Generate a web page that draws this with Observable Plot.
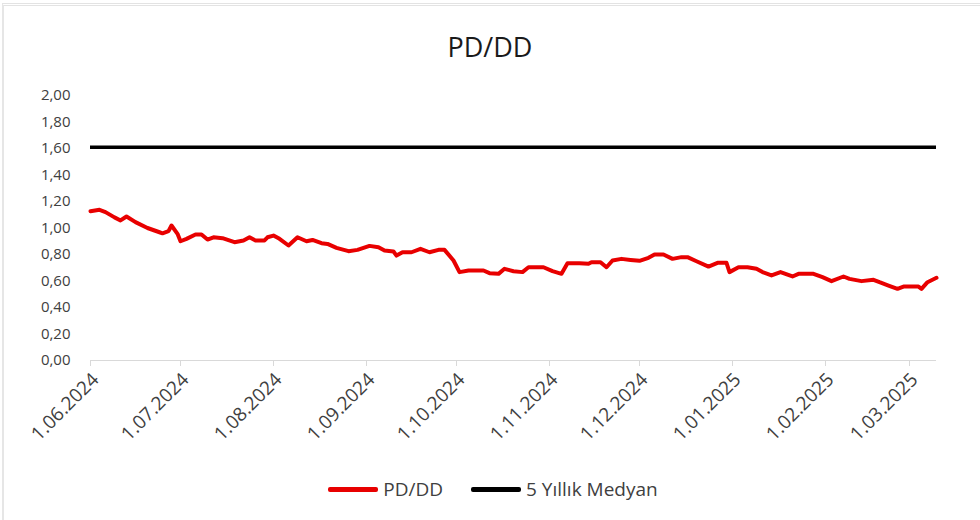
<!DOCTYPE html>
<html>
<head>
<meta charset="utf-8">
<script src="https://cdn.jsdelivr.net/npm/d3@7"></script>
<script src="https://cdn.jsdelivr.net/npm/@observablehq/plot@0.6"></script>
<style>
  html, body { margin: 0; padding: 0; background: #fff; }
  #wrap { position: relative; width: 980px; height: 520px; background: #fff; overflow: hidden; font-family: "Open Sans", "Liberation Sans", sans-serif; }
  #frame { position: absolute; left: 2px; top: 3px; width: 990px; height: 530px; border-left: 2px solid #e6e6e6; border-top: 3px double #e3e3e3; box-sizing: border-box; }
  #title { position: absolute; left: 0; width: 980px; top: 28px; text-align: center; font-size: 27px; color: #1a1a1a; }
  #chart { position: absolute; left: 0; top: 70px; }
  #legend { position: absolute; top: 476px; left: 0; width: 980px; display: flex; justify-content: center; align-items: center; font-size: 19px; color: #404040; padding-left: 6px; box-sizing: border-box; }
  .item { display: flex; align-items: center; margin: 0 14px; }
  .sw { width: 50px; height: 5px; margin-right: 5px; border-radius: 2px; }
</style>
</head>
<body>
<div id="wrap">
  <div id="frame"></div>
  <div id="title">PD/DD</div>
  <div id="chart"></div>
  <div id="legend"></div>
</div>
<script>
// Data
const dates = [
  "2024-06-01","2024-06-04","2024-06-06","2024-06-09","2024-06-11","2024-06-13","2024-06-16","2024-06-20",
  "2024-06-24","2024-06-25","2024-06-27","2024-06-28","2024-06-30","2024-07-01","2024-07-03","2024-07-06",
  "2024-07-08","2024-07-10","2024-07-12","2024-07-15","2024-07-19","2024-07-22","2024-07-24","2024-07-26",
  "2024-07-29","2024-07-30","2024-08-01","2024-08-03","2024-08-06","2024-08-09","2024-08-12","2024-08-14",
  "2024-08-17","2024-08-19","2024-08-22","2024-08-26","2024-08-29","2024-09-02","2024-09-05","2024-09-07",
  "2024-09-10","2024-09-11","2024-09-13","2024-09-16","2024-09-19","2024-09-22","2024-09-25","2024-09-27",
  "2024-09-30","2024-10-02","2024-10-05","2024-10-10","2024-10-12","2024-10-15","2024-10-17","2024-10-20",
  "2024-10-23","2024-10-25","2024-10-30","2024-11-02","2024-11-05","2024-11-07","2024-11-11","2024-11-14",
  "2024-11-15","2024-11-18","2024-11-20","2024-11-22","2024-11-25","2024-11-28","2024-12-01","2024-12-04",
  "2024-12-06","2024-12-09","2024-12-12","2024-12-15","2024-12-17","2024-12-20","2024-12-24","2024-12-27",
  "2024-12-30","2024-12-31","2025-01-03","2025-01-06","2025-01-09","2025-01-11","2025-01-14","2025-01-17",
  "2025-01-21","2025-01-23","2025-01-28","2025-01-31","2025-02-03","2025-02-07","2025-02-09","2025-02-13",
  "2025-02-17","2025-02-19","2025-02-22","2025-02-25","2025-02-27","2025-03-04","2025-03-05","2025-03-07",
  "2025-03-10"
];
const pddd = [
  1.127,1.137,1.120,1.080,1.057,1.087,1.044,1.000,
  0.968,0.960,0.976,1.019,0.956,0.900,0.918,0.951,
  0.951,0.913,0.930,0.923,0.893,0.906,0.930,0.906,
  0.906,0.930,0.943,0.918,0.868,0.930,0.900,0.910,
  0.885,0.880,0.850,0.825,0.835,0.865,0.855,0.830,
  0.823,0.792,0.817,0.817,0.843,0.817,0.835,0.835,
  0.755,0.667,0.679,0.679,0.659,0.654,0.692,0.674,
  0.667,0.704,0.704,0.674,0.654,0.734,0.734,0.730,
  0.742,0.742,0.704,0.755,0.767,0.759,0.752,0.775,
  0.800,0.800,0.767,0.780,0.780,0.749,0.709,0.737,
  0.737,0.667,0.704,0.704,0.692,0.667,0.642,0.667,
  0.634,0.654,0.654,0.629,0.599,0.634,0.616,0.599,
  0.609,0.591,0.566,0.541,0.558,0.558,0.541,0.591,
  0.624
];
const median5y = 1.61;
const yTicks = [0, 0.2, 0.4, 0.6, 0.8, 1.0, 1.2, 1.4, 1.6, 1.8, 2.0];
const xTicks = ["2024-06-01","2024-07-01","2024-08-01","2024-09-01","2024-10-01","2024-11-01","2024-12-01","2025-01-01","2025-02-01","2025-03-01"];
const seriesNames = ["PD/DD", "5 Yıllık Medyan"];
const seriesColors = ["#e80000", "#000000"];

const parse = d3.utcParse("%Y-%m-%d");
const data = dates.map((d, i) => ({date: parse(d), value: pddd[i]}));
const fmtDate = d3.utcFormat("%-d.%m.%Y");
const xTickDates = xTicks.map(parse);

const plot = Plot.plot({
  width: 980,
  height: 390,
  marginLeft: 90,
  marginRight: 44,
  marginTop: 25,
  marginBottom: 100,
  style: {fontFamily: "'Open Sans', 'Liberation Sans', sans-serif", fontSize: "15px", color: "#595959", background: "transparent"},
  x: {type: "utc", domain: [parse("2024-06-01"), parse("2025-03-10")], label: null},
  y: {domain: [0, 2], label: null},
  marks: [
    Plot.ruleY([0], {stroke: "#d9d9d9", strokeWidth: 1.2}),
    // tick marks only
    Plot.axisX({ticks: xTickDates, tickFormat: () => "", tickSize: 6, stroke: "#d9d9d9", label: null}),
    // rotated labels only, nudged like the original
    Plot.axisX({ticks: xTickDates, tickFormat: fmtDate, tickRotate: -45, tickSize: 0, tickPadding: 16, dx: 5, fill: "#404040", fontSize: 19, label: null}),
    Plot.axisY({ticks: yTicks, tickFormat: d => d.toFixed(2).replace(".", ","), tickSize: 0, tickPadding: 20, fill: "#404040", fontSize: 15, label: null}),
    Plot.ruleY([median5y], {stroke: seriesColors[1], strokeWidth: 3.5}),
    Plot.line(data, {x: "date", y: "value", stroke: seriesColors[0], strokeWidth: 4, strokeLinejoin: "round", strokeLinecap: "round"})
  ]
});
document.getElementById("chart").appendChild(plot);

const legend = document.getElementById("legend");
seriesNames.forEach((n, i) => {
  const it = document.createElement("div");
  it.className = "item";
  const sw = document.createElement("div");
  sw.className = "sw";
  sw.style.background = seriesColors[i];
  const t = document.createElement("span");
  t.textContent = n;
  it.appendChild(sw); it.appendChild(t);
  legend.appendChild(it);
});
</script>
</body>
</html>
